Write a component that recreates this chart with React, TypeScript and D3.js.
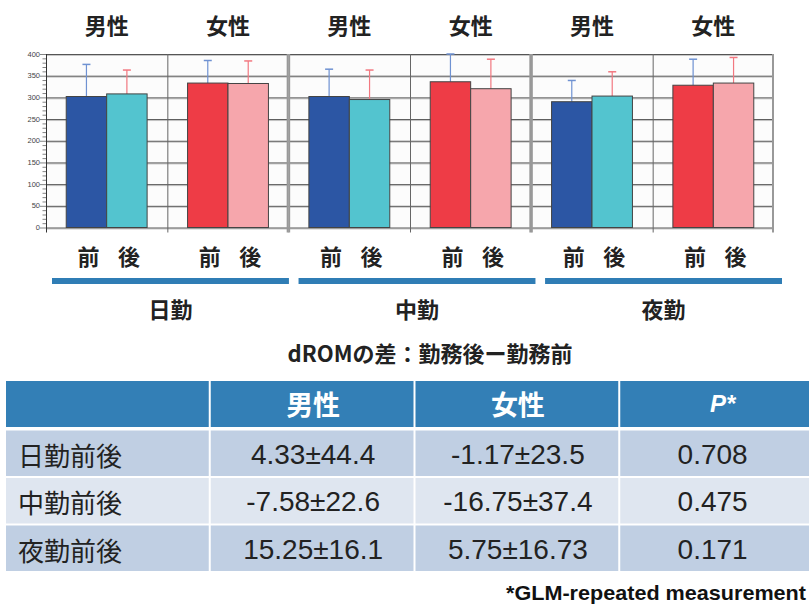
import React from "react";
import * as d3 from "d3";

// ---- data ----
const shifts = ["日勤", "中勤", "夜勤"];
const sexes = ["男性", "女性"];
const times = ["前", "後"];
const maleBefore = [302, 302, 290];
const maleAfter = [308, 295, 303];
const femaleBefore = [333, 336, 328];
const femaleAfter = [332, 320, 333];
const maleBeforeSD = [74, 63, 49];
const maleAfterSD = [55, 68, 56];
const femaleBeforeSD = [52, 64, 60];
const femaleAfterSD = [52, 68, 59];
const yTicks = [0, 50, 100, 150, 200, 250, 300, 350, 400];

const tableTitle = "dROMの差：勤務後ー勤務前";
const tableColumns = ["", "男性", "女性", "P*"];
const rowLabels = ["日勤前後", "中勤前後", "夜勤前後"];
const maleDiff = ["4.33±44.4", "-7.58±22.6", "15.25±16.1"];
const femaleDiff = ["-1.17±23.5", "-16.75±37.4", "5.75±16.73"];
const pValues = ["0.708", "0.475", "0.171"];
const footnote = "*GLM-repeated measurement";

// ---- style ----
const W = 809;
const H = 605;
const CJK = "'Noto Sans CJK JP', 'Noto Sans', sans-serif";
const NUM = "'Liberation Sans Narrow', 'Liberation Sans', Arial, sans-serif";
const barColors: Record<string, Record<string, string>> = {
  男性: { 前: "#2C56A4", 後: "#53C4CF" },
  女性: { 前: "#EE3C46", 後: "#F6A6AC" },
};
const errColors: Record<string, string> = { 前: "#6F92D2", 後: "#F27880" };

type Bar = { shift: string; sex: string; time: string; value: number; sd: number };

const bars: Bar[] = [];
shifts.forEach((s, i) => {
  bars.push({ shift: s, sex: "男性", time: "前", value: maleBefore[i], sd: maleBeforeSD[i] });
  bars.push({ shift: s, sex: "男性", time: "後", value: maleAfter[i], sd: maleAfterSD[i] });
  bars.push({ shift: s, sex: "女性", time: "前", value: femaleBefore[i], sd: femaleBeforeSD[i] });
  bars.push({ shift: s, sex: "女性", time: "後", value: femaleAfter[i], sd: femaleAfterSD[i] });
});

export default function App() {
  const y = d3.scaleLinear().domain([0, 400]).range([227.5, 54]);
  const xPanel = d3.scaleBand<string>().domain(shifts).range([46, 774]).padding(0);
  const pw = xPanel.bandwidth();
  const xSex = d3.scaleBand<string>().domain(sexes).range([0, pw]).padding(0);
  const xTime = d3
    .scaleBand<string>()
    .domain(times)
    .range([0, xSex.bandwidth()])
    .paddingInner(0)
    .paddingOuter(0.5);
  const bw = xTime.bandwidth();
  const minorTicks = d3.range(0, 401, 10);

  const under = d3.scaleBand<string>().domain(shifts).range([52, 782]).paddingInner(0.039).paddingOuter(0);

  // table
  const tx = d3.scaleBand<string>().domain(tableColumns.map((c, i) => String(i))).range([6, 825]).padding(0);
  const ty = d3.scaleBand<string>().domain(rowLabels).range([430.5, 573]).padding(0);
  const colVals = [rowLabels, maleDiff, femaleDiff, pValues];
  const rowFill = ["#C0CFE3", "#DFE6F0", "#C0CFE3"];

  return (
    <svg
      width={W}
      height={H}
      viewBox={`0 0 ${W} ${H}`}
      style={{ position: "absolute", left: 0, top: 0, background: "#fff" }}
    >
      {/* panels */}
      {shifts.map((s) => {
        const px = xPanel(s)!;
        return (
          <g key={s}>
            <rect x={px} y={y(400)} width={pw} height={y(0) - y(400)} fill="#fcfcfc" />
            {yTicks.map((t) => (
              <g key={t}>
                <line x1={px} x2={px + pw} y1={y(t) + 1.5} y2={y(t) + 1.5} stroke="#c8c8c8" strokeWidth={1} />
                <line x1={px} x2={px + pw} y1={y(t) + 0.5} y2={y(t) + 0.5} stroke="#555" strokeWidth={1} />
              </g>
            ))}
            {/* divider between sexes */}
            <line
              x1={px + xSex("女性")! + 0.5}
              x2={px + xSex("女性")! + 0.5}
              y1={y(400)}
              y2={y(0) + 5}
              stroke="#666"
              strokeWidth={1}
            />
            {/* panel borders */}
            <line x1={px + 0.5} x2={px + 0.5} y1={y(400)} y2={y(0) + 5} stroke={s === shifts[0] ? "#333" : "#999"} strokeWidth={s === shifts[0] ? 1 : 2} />
            <line x1={px + pw - 1} x2={px + pw - 1} y1={y(400)} y2={y(0) + 5} stroke="#999" strokeWidth={2} />
          </g>
        );
      })}

      {/* y axis ticks & labels */}
      {minorTicks.map((t) => (
        <line key={t} x1={t % 50 === 0 ? 40 : 42.5} x2={46} y1={y(t) + 0.5} y2={y(t) + 0.5} stroke="#666" strokeWidth={0.8} />
      ))}
      {yTicks.map((t) => (
        <text key={t} x={40} y={y(t)} textAnchor="end" dominantBaseline="central" fontSize={7.5} fill="#444" fontFamily="'Liberation Sans', Arial, sans-serif">
          {t}
        </text>
      ))}

      {/* bars */}
      {bars.map((b, i) => {
        const bx = xPanel(b.shift)! + xSex(b.sex)! + xTime(b.time)!;
        const cx = bx + bw / 2;
        const top = y(b.value);
        const etop = y(b.value + b.sd);
        return (
          <g key={i}>
            <line x1={cx} x2={cx} y1={top} y2={etop} stroke={errColors[b.time]} strokeWidth={1.2} />
            <line x1={cx - 4} x2={cx + 4} y1={etop} y2={etop} stroke={errColors[b.time]} strokeWidth={1.5} />
            <rect x={bx} y={top} width={bw} height={y(0) - top} fill={barColors[b.sex][b.time]} stroke="#444" strokeWidth={1} />
          </g>
        );
      })}

      {/* top sex labels */}
      {shifts.map((s) =>
        sexes.map((sx) => (
          <text
            key={s + sx}
            x={xPanel(s)! + xSex(sx)! + xSex.bandwidth() / 2}
            y={24}
            textAnchor="middle"
            dominantBaseline="central"
            fontSize={22}
            fontWeight="bold"
            fill="#222"
            fontFamily={CJK}
          >
            {sx}
          </text>
        ))
      )}

      {/* time labels */}
      {bars.map((b, i) => (
        <text
          key={"t" + i}
          x={xPanel(b.shift)! + xSex(b.sex)! + xTime(b.time)! + bw / 2 + 2}
          y={255}
          textAnchor="middle"
          dominantBaseline="central"
          fontSize={22}
          fontWeight="bold"
          fill="#222"
          fontFamily={CJK}
        >
          {b.time}
        </text>
      ))}

      {/* group underlines & labels */}
      {shifts.map((s) => (
        <g key={"u" + s}>
          <rect x={under(s)!} y={278} width={under.bandwidth()} height={6} fill="#2F7DB5" />
          <text
            x={under(s)! + under.bandwidth() / 2}
            y={308}
            textAnchor="middle"
            dominantBaseline="central"
            fontSize={22}
            fontWeight="bold"
            fill="#222"
            fontFamily={CJK}
          >
            {s}
          </text>
        </g>
      ))}

      {/* table title */}
      <text x={430} y={352} textAnchor="middle" dominantBaseline="central" fontSize={22} fontWeight="bold" fill="#222" fontFamily={CJK}>
        {tableTitle}
      </text>

      {/* header */}
      {tableColumns.map((c, i) => (
        <g key={"h" + i}>
          <rect x={tx(String(i))!} y={381} width={tx.bandwidth() - 2} height={46} fill="#337FB6" />
          {c && (
            <text
              x={tx(String(i))! + tx.bandwidth() / 2}
              y={403}
              textAnchor="middle"
              dominantBaseline="central"
              fontSize={c === "P*" ? 24 : 27}
              fontWeight="bold"
              fontStyle={c === "P*" ? "italic" : "normal"}
              fill="#fff"
              fontFamily={c === "P*" ? "'Liberation Sans', Arial, sans-serif" : CJK}
            >
              {c}
            </text>
          )}
        </g>
      ))}

      {/* body */}
      {rowLabels.map((r, ri) =>
        tableColumns.map((_, ci) => {
          const x0 = tx(String(ci))!;
          const y0 = ty(r)!;
          const v = colVals[ci][ri];
          return (
            <g key={r + ci}>
              <rect x={x0} y={y0} width={tx.bandwidth() - 2} height={ty.bandwidth() - 2} fill={rowFill[ri]} />
              <text
                x={ci === 0 ? x0 + 12 : x0 + tx.bandwidth() / 2 - (ci === 3 ? 10 : 0)}
                y={y0 + (ty.bandwidth() - 2) / 2 + 1}
                textAnchor={ci === 0 ? "start" : "middle"}
                dominantBaseline="central"
                fontSize={ci === 0 ? 26 : 28}
                fill="#222"
                fontFamily={ci === 0 ? CJK : NUM}
              >
                {v}
              </text>
            </g>
          );
        })
      )}

      {/* footnote */}
      <text x={806} y={600} textAnchor="end" fontSize={21} fontWeight="bold" fill="#111" fontFamily={NUM} textLength={300} lengthAdjust="spacingAndGlyphs">
        {footnote}
      </text>
    </svg>
  );
}
